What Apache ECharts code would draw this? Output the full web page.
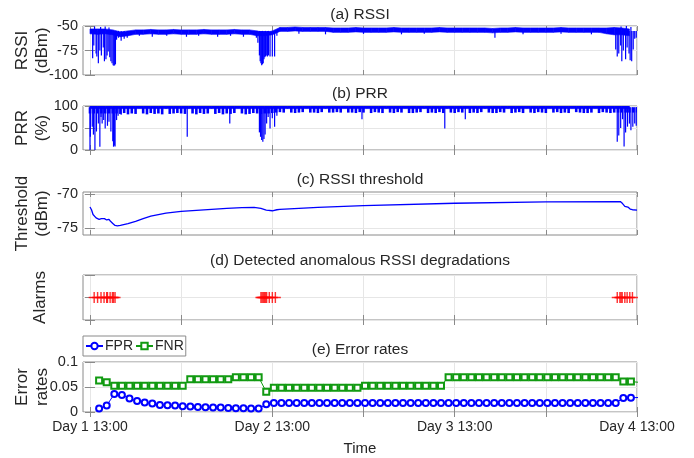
<!DOCTYPE html>
<html>
<head>
<meta charset="utf-8">
<title>RSSI anomaly detection</title>
<script src="https://cdn.jsdelivr.net/npm/echarts@6/dist/echarts.min.js"></script>
<style>
  html, body { margin: 0; padding: 0; background: #fff; }
  #main { width: 694px; height: 458px; }
</style>
</head>
<body>
<div id="main"></div>
<script>
// all times are hours after Day 1 13:00
const xTicks = [0, 12, 24, 36, 48, 60, 72];
const xLabelHours = [0, 24, 48, 72];
const xLabels = ['Day 1 13:00', 'Day 2 13:00', 'Day 3 13:00', 'Day 4 13:00'];

// (a) RSSI: band edges, one value per hour from t=0 to t=72
const rssiTop = [
  -53, -53, -53, -54, -56, -55,
  -54, -54, -53.5, -54, -54, -53.5, -54, -54, -54, -53.5, -54, -54, -54, -53.5, -54, -54,
  -55, -57, -55,
  -51.5, -51.5, -51, -51.5, -51.5, -51.5, -51.5,
  -52, -52, -52, -51.5, -52, -52, -52, -52, -51.5, -52, -52, -52, -52, -52, -51.5, -52, -52, -52,
  -52, -52, -52, -52.5, -52, -52, -51.5, -52, -52, -52, -52, -52, -51.5, -52, -52, -52, -52, -52,
  -52, -51.5, -52, -53
];
const rssiBottom = [
  -58, -58.5, -58, -59, -61, -60,
  -58.5, -58.5, -58, -58.5, -58.5, -58, -58.5, -58.5, -58.5, -58, -58.5, -58.5, -58.5, -58, -58.5, -58.5,
  -60, -60, -59,
  -55.5, -55.5, -55, -55.5, -55.5, -55.5, -55.5,
  -56.5, -56.5, -56.5, -56, -56.5, -56.5, -56.5, -56.5, -56, -56.5, -56.5, -56.5, -56.5, -56.5, -56, -56.5, -56.5, -56.5,
  -56.5, -56.5, -56.5, -57, -56.5, -56.5, -56, -56.5, -56.5, -56.5, -56.5, -56.5, -56, -56.5, -56.5, -56.5, -56.5, -56.5,
  -58, -59, -59, -60
];
// (a) RSSI: single readings that leave the band [hour, dBm]
const rssiSpikes = [
  [0.35, -83], [0.5, -70], [0.6, -50.5], [0.8, -78], [0.9, -81], [1.1, -88], [1.3, -75], [1.4, -51],
  [1.5, -80], [1.75, -72], [1.9, -86], [2.0, -50.5], [2.1, -84], [2.25, -80], [2.4, -76], [2.5, -51.5],
  [2.6, -82], [2.75, -86], [2.9, -88], [3.05, -90], [3.15, -90.5], [3.25, -90], [3.35, -89],
  [3.5, -64], [3.75, -62], [4.1, -65], [4.5, -63], [4.9, -62],
  [6.5, -60], [8.2, -61], [10.1, -60], [12.7, -61], [14.3, -60], [16.8, -61], [18.5, -60], [20.2, -61],
  [21.9, -62], [22.1, -67], [22.3, -80], [22.4, -86], [22.5, -88], [22.6, -90], [22.7, -89], [22.8, -88],
  [22.9, -84], [23.0, -82], [23.1, -81], [23.2, -80], [23.35, -81], [23.5, -80], [23.7, -81], [24.0, -81],
  [24.3, -81], [24.6, -60],
  [27.5, -58], [31, -58.5], [36, -58], [41, -58.5], [44, -58], [53.3, -62], [57, -58.5], [62, -58], [66, -58.5],
  [69.2, -74], [69.4, -81], [69.6, -78], [69.85, -70], [69.9, -50.5], [70.0, -86], [70.2, -75], [70.5, -84],
  [70.6, -50], [70.7, -72], [70.95, -78], [71.1, -85], [71.2, -51], [71.3, -86], [71.5, -74], [71.7, -63], [71.9, -62]
];

// (b) PRR: solid band and drops [hour, %]
const prrBand = [94, 100];
const prrDrops = [
  [0.0, 0], [0.05, 30], [0.3, 53], [0.45, 35], [0.65, 0], [0.85, 42], [1.1, 60], [1.3, 7.5], [1.45, 75],
  [1.6, 60], [1.8, 68], [2.0, 49], [2.3, 55], [2.5, 64], [2.75, 42], [3.0, 20], [3.1, 7.5], [3.2, 10],
  [3.3, 8], [3.5, 68], [3.7, 78], [4.1, 80],
  [12.8, 30], [18.4, 60],
  [22.3, 40], [22.45, 30], [22.6, 23], [22.75, 19], [22.9, 25], [23.05, 35], [23.25, 60], [23.45, 75],
  [23.7, 49], [24.0, 72], [24.3, 53], [24.6, 78],
  [35.8, 70], [46.7, 49], [49.4, 70],
  [69.4, 19], [69.6, 33], [69.85, 50], [70.1, 70], [70.3, 8], [70.5, 40], [70.75, 53], [71.0, 60],
  [71.2, 45], [71.45, 53], [71.7, 60], [71.9, 55]
];
// (b) PRR: lowest reading in each half hour from t=0 (short comb ticks)
const prrComb = [
  83, 83, 83, 83, 83, 83, 83, 83, 82, 84, 81, 83, 82, 95, 83, 81, 84, 82, 83, 81, 95, 82, 83, 84,
  83, 82, 95, 83, 81, 84, 82, 83, 95, 82, 84, 81, 83, 82, 84, 95, 83, 81, 82, 84, 83, 82, 83, 83,
  84, 85, 86, 85, 95, 85, 84, 85, 86, 95, 85, 85, 84, 86, 95, 85, 85, 86, 85, 95, 85, 85, 84, 86,
  85, 95, 84, 86, 85, 84, 95, 85, 84, 86, 85, 95, 84, 84, 85, 86, 95, 84, 85, 84, 86, 84, 95, 85,
  84, 86, 85, 95, 84, 85, 84, 86, 95, 85, 84, 84, 86, 85, 95, 84, 85, 86, 84, 95, 85, 84, 86, 85,
  84, 95, 85, 86, 84, 85, 84, 95, 86, 85, 84, 84, 85, 95, 84, 86, 85, 84, 85, 85, 85, 85, 85, 85,
  85
];

// (c) RSSI threshold
const thrTime = [0, 0.2, 0.4, 0.6, 0.8, 1.0, 1.2, 1.5, 1.9, 2.2, 2.5, 2.7, 3.0, 3.3, 3.6, 4, 5, 6, 7, 8,
  10, 12, 14, 16, 18, 20, 21.6, 22.5, 23.2, 24, 24.6, 25, 30, 36, 48, 60, 69.8, 70.1, 70.4, 70.8, 71.1, 71.4, 72];
const thrValue = [-71.9, -72.3, -73.0, -73.1, -73.5, -73.4, -73.7, -73.6, -73.6, -73.8, -73.7, -74.0, -74.3,
  -74.6, -74.65, -74.6, -74.35, -74.0, -73.6, -73.25, -72.8, -72.55, -72.4, -72.25, -72.1, -72.0, -71.95,
  -72.1, -72.35, -72.45, -72.3, -72.25, -71.95, -71.7, -71.35, -71.15, -71.1, -71.4, -71.8, -71.9, -72.2,
  -72.3, -72.35];

// (d) detected anomalies
const alarmTimes = [0.55, 1.0, 1.45, 1.85, 2.2, 2.3, 2.65, 2.95, 3.1, 3.3,
  22.5, 22.65, 22.8, 22.95, 23.1, 23.25, 23.6, 24.0, 24.4,
  69.4, 69.75, 69.9, 70.05, 70.4, 70.7, 71.05, 71.4];

// (e) error rates, one value per hour starting at errStart
const errStart = 1.2;
const fpr = [0.007, 0.013, 0.036, 0.034, 0.027, 0.022, 0.019, 0.017, 0.014, 0.0135, 0.013, 0.0115,
  0.011, 0.010, 0.0095, 0.009, 0.009, 0.008, 0.0075, 0.0075, 0.007, 0.007, 0.0155,
  0.018, 0.018, 0.018, 0.018, 0.018, 0.018, 0.018, 0.018, 0.018, 0.018, 0.018, 0.018, 0.018, 0.018,
  0.018, 0.018, 0.018, 0.018, 0.018, 0.018, 0.018, 0.018, 0.018, 0.018, 0.018, 0.018, 0.018, 0.018,
  0.018, 0.018, 0.018, 0.018, 0.018, 0.018, 0.018, 0.018, 0.018, 0.018, 0.018, 0.018, 0.018, 0.018,
  0.018, 0.018, 0.018, 0.018, 0.028, 0.0285, 0.029];
const fnr = [0.063, 0.0595, 0.0527, 0.0527, 0.0527, 0.0527, 0.0527, 0.0527, 0.0527, 0.0527, 0.0527, 0.0527,
  0.0655, 0.0655, 0.0655, 0.0655, 0.0655, 0.0655, 0.0696, 0.0696, 0.0696, 0.0696, 0.0405,
  0.0486, 0.0486, 0.0486, 0.0486, 0.0486, 0.0486, 0.0486, 0.0486, 0.0486, 0.0486, 0.0486, 0.0486,
  0.0527, 0.0527, 0.0527, 0.0527, 0.0527, 0.0527, 0.0527, 0.0527, 0.0527, 0.0527, 0.0527,
  0.0696, 0.0696, 0.0696, 0.0696, 0.0696, 0.0696, 0.0696, 0.0696, 0.0696, 0.0696, 0.0696, 0.0696,
  0.0696, 0.0696, 0.0696, 0.0696, 0.0696, 0.0696, 0.0696, 0.0696, 0.0696, 0.0696, 0.0696,
  0.0608, 0.0608, 0.0595];

const BLUE = '#0000ff';
const RED = '#ff0000';
const GREEN = '#119a11';
const AXIS = '#8a8a8a';
const TEXT = '#262626';
const font = "'Liberation Sans', Arial, sans-serif";

const chart = echarts.init(document.getElementById('main'));

// plot boxes, top to bottom
const boxes = [
  { top: 26, height: 49 },
  { top: 106, height: 44 },
  { top: 192, height: 43 },
  { top: 275, height: 45 },
  { top: 362, height: 50 }
];
const titles = ['(a) RSSI', '(b) PRR', '(c) RSSI threshold', '(d) Detected anomalous RSSI degradations', '(e) Error rates'];
const titleTop = [7, 86, 172, 253, 342];
const yNames = ['RSSI\n(dBm)', 'PRR\n(%)', 'Threshold\n(dBm)', 'Alarms', 'Error\nrates'];
const yRanges = [
  { min: -100, max: -50, interval: 25 },
  { min: 0, max: 100, interval: 50 },
  { min: -76, max: -69.7, ticks: [-75, -70] },
  { min: 0, max: 2, interval: 1 },
  { min: 0, max: 0.1, interval: 0.05 }
];

function tickStyle(values) {
  return { show: true, inside: true, length: 5, customValues: values, lineStyle: { color: AXIS } };
}

function makeX(i) {
  const last = i === 4;
  return {
    type: 'value', gridIndex: i, min: -0.92, max: 72,
    axisLine: { show: false },
    axisTick: tickStyle(xTicks),
    splitLine: { show: true, lineStyle: { color: '#e6e6e6' } },
    axisLabel: {
      show: last, customValues: xLabelHours, margin: 8, color: TEXT, fontSize: 14, fontFamily: font,
      formatter: v => xLabels[xLabelHours.indexOf(v)]
    },
    name: last ? 'Time' : '', nameLocation: 'middle', nameGap: 29,
    nameTextStyle: { color: TEXT, fontSize: 15, fontFamily: font }
  };
}
// mirrored ticks along the top edge of each box
function makeXTop(i) {
  return {
    type: 'value', gridIndex: i, position: 'top', min: -0.92, max: 72,
    axisLine: { show: false }, axisTick: tickStyle(xTicks),
    splitLine: { show: false }, axisLabel: { show: false }
  };
}

function makeY(i) {
  const r = yRanges[i];
  return {
    type: 'value', gridIndex: i, min: r.min, max: r.max, interval: r.interval,
    axisLine: { show: false },
    axisTick: tickStyle(r.ticks),
    splitLine: { show: true, lineStyle: { color: '#e6e6e6' } },
    axisLabel: { show: i !== 3, customValues: r.ticks, margin: 5, color: TEXT, fontSize: 14.5, fontFamily: font },
    name: yNames[i], nameLocation: 'middle', nameRotate: 90, nameGap: i === 3 ? 33 : 31,
    nameMoveOverlap: false,
    nameTextStyle: { color: TEXT, fontSize: 17, lineHeight: 20, fontFamily: font }
  };
}
function makeYRight(i) {
  const r = yRanges[i];
  return {
    type: 'value', gridIndex: i, position: 'right', min: r.min, max: r.max, interval: r.interval,
    axisLine: { show: false }, axisTick: tickStyle(r.ticks),
    splitLine: { show: false }, axisLabel: { show: false }
  };
}

// band between two edges, drawn as polygons between neighbouring samples
function bandRows(top, bottom, step) {
  const rows = [];
  for (let i = 0; i < top.length - 1; i++) {
    rows.push([i * step, top[i], bottom[i], (i + 1) * step, top[i + 1], bottom[i + 1]]);
  }
  return rows;
}
function bandSeries(idx, rows) {
  return {
    type: 'custom', xAxisIndex: idx, yAxisIndex: idx, silent: true, clip: true, data: rows,
    renderItem: (params, api) => ({
      type: 'polygon',
      shape: { points: [
        api.coord([api.value(0), api.value(1)]), api.coord([api.value(3), api.value(4)]),
        api.coord([api.value(3), api.value(5)]), api.coord([api.value(0), api.value(2)])
      ] },
      style: { fill: BLUE, stroke: BLUE, lineWidth: 0.6 }
    })
  };
}
// vertical sticks from a base level to each reading
function stickSeries(idx, rows, base, width) {
  return {
    type: 'custom', xAxisIndex: idx, yAxisIndex: idx, silent: true, clip: true, data: rows,
    renderItem: (params, api) => {
      const p0 = api.coord([api.value(0), base]);
      const p1 = api.coord([api.value(0), api.value(1)]);
      return { type: 'line', shape: { x1: p0[0], y1: p0[1], x2: p1[0], y2: p1[1] },
        style: { stroke: BLUE, lineWidth: width } };
    }
  };
}

const prrTop = rssiTop.map(() => prrBand[1]);
const prrLow = rssiTop.map(() => prrBand[0]);
const idx = [0, 1, 2, 3, 4];

chart.setOption({
  animation: false,
  backgroundColor: '#fff',
  textStyle: { fontFamily: font },
  title: titles.map((t, i) => ({
    text: t, left: 360, top: titleTop[i], textAlign: 'center', padding: 0,
    textStyle: { color: TEXT, fontSize: 15.5, fontWeight: 'normal', fontFamily: font }
  })),
  legend: {
    data: ['FPR', 'FNR'], left: 83, top: 336, padding: [3, 2], itemGap: 2,
    itemWidth: 17, itemHeight: 8, borderColor: '#8a8a8a', borderWidth: 1, borderRadius: 0,
    backgroundColor: '#fff',
    textStyle: { color: TEXT, fontSize: 14, fontFamily: font, padding: [0, 0, 0, -3] }
  },
  grid: boxes.map(b => ({
    left: 83, width: 554, top: b.top, height: b.height, containLabel: false, outerBoundsMode: 'none',
    show: true, borderColor: AXIS, borderWidth: 1, backgroundColor: '#fff'
  })),
  xAxis: idx.map(makeX).concat(idx.map(makeXTop)),
  yAxis: idx.map(makeY).concat(idx.map(makeYRight)),
  series: [
    bandSeries(0, bandRows(rssiTop, rssiBottom, 1)),
    stickSeries(0, rssiSpikes, -55, 1.2),
    bandSeries(1, bandRows(prrTop, prrLow, 1)),
    stickSeries(1, prrComb.map((v, i) => [i * 0.5, v]), 97, 2.6),
    stickSeries(1, prrDrops, 97, 1.2),
    {
      type: 'line', xAxisIndex: 2, yAxisIndex: 2, showSymbol: false, silent: true,
      data: thrTime.map((t, i) => [t, thrValue[i]]),
      lineStyle: { color: BLUE, width: 1.3 }
    },
    {
      type: 'scatter', xAxisIndex: 3, yAxisIndex: 3, silent: true,
      symbol: 'path://M0,4.35H10V5.65H0Z M4.35,0H5.65V10H4.35Z', symbolSize: 11,
      itemStyle: { color: RED },
      data: alarmTimes.map(t => [t, 1])
    },
    {
      name: 'FPR', type: 'line', xAxisIndex: 4, yAxisIndex: 4,
      symbol: 'emptyCircle', symbolSize: 6, color: BLUE,
      lineStyle: { width: 1 }, itemStyle: { borderWidth: 1 },
      data: fpr.map((v, i) => [errStart + i, v])
    },
    {
      name: 'FNR', type: 'line', xAxisIndex: 4, yAxisIndex: 4,
      symbol: 'emptyRect', symbolSize: 6, color: GREEN,
      lineStyle: { width: 1 }, itemStyle: { borderWidth: 1 },
      data: fnr.map((v, i) => [errStart + i, v])
    }
  ]
});
</script>
</body>
</html>
